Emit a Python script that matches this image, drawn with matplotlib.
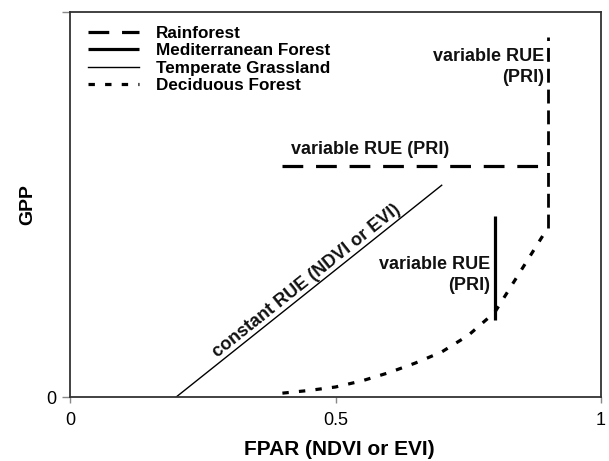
import numpy as np
import matplotlib
matplotlib.use("Agg")
import matplotlib.pyplot as plt

plt.rcParams['font.family'] = ['Liberation Sans', 'DejaVu Sans']

# Data
rain_h_x = [0.4, 0.9]
rain_h_y = [0.6, 0.6]
rain_v_x = [0.9, 0.9]
rain_v_y = [0.44, 0.935]
med_x = [0.8, 0.8]
med_y = [0.2, 0.47]
grass_x = [0.2, 0.7]
grass_y = [0.0, 0.55]
decid_x = [0.40, 0.45, 0.50, 0.55, 0.60, 0.65, 0.70, 0.75, 0.80, 0.85, 0.90]
decid_y = [0.010, 0.017, 0.026, 0.042, 0.063, 0.088, 0.117, 0.160, 0.220, 0.330, 0.440]
x_ticks = [0, 0.5, 1]
x_tick_labels = ["0", "0.5", "1"]
y_ticks = [0, 1]
y_tick_labels = ["0", ""]

fig = plt.figure(figsize=(6.09, 4.61), dpi=100)
ax = fig.add_axes([70/609, 1 - 397/461, 531/609, 385/461])

ax.plot(rain_h_x, rain_h_y, color='black', lw=2.3, dashes=(6.5, 4), label='Rainforest')
ax.plot(rain_v_x, rain_v_y, color='black', lw=2.0, dashes=(5, 2.5))
ax.plot(med_x, med_y, color='black', lw=2.3, solid_capstyle='butt', label='Mediterranean Forest')
ax.plot(grass_x, grass_y, color='black', lw=1.0, label='Temperate Grassland')
ax.plot(decid_x, decid_y, color='black', lw=2.3, dashes=(2, 3.2), label='Deciduous Forest')

ax.set_xlim(0, 1)
ax.set_ylim(0, 1)
ax.set_xticks(x_ticks)
ax.set_xticklabels(x_tick_labels)
ax.set_yticks(y_ticks)
ax.set_yticklabels(y_tick_labels)
ax.tick_params(direction='out', width=1, colors='#888888', labelcolor='black', labelsize=13)
ax.tick_params(axis='x', length=4.5, pad=6)
ax.tick_params(axis='y', length=6, pad=4)
for s in ax.spines.values():
    s.set_linewidth(1.3)
    s.set_color('#333333')

ax.set_xlabel('FPAR (NDVI or EVI)', fontsize=15, fontweight='bold', labelpad=8)
ax.xaxis.label.set_x(0.507)
ax.set_ylabel('GPP', fontsize=14, fontweight='bold', labelpad=7)

leg = ax.legend(loc='upper left', bbox_to_anchor=(0.021, 0.982), frameon=False,
                prop={'weight': 'bold', 'size': 12.3}, handlelength=3.0,
                handletextpad=1.0, labelspacing=0.15, borderaxespad=0.0)

ann = dict(fontsize=13, fontweight='bold', color='#111111')
ax.text(0.565, 0.644, 'variable RUE (PRI)', ha='center', va='center', **ann)
ax.text(0.893, 0.858, 'variable RUE\n(PRI)', ha='right', va='center', multialignment='right',
        linespacing=1.3, **ann)
ax.text(0.792, 0.316, 'variable RUE\n(PRI)', ha='right', va='center', multialignment='right',
        linespacing=1.3, **ann)
ang = np.degrees(np.arctan2(grass_y[1] - grass_y[0], grass_x[1] - grass_x[0]))
ax.text(0.456, 0.284, 'constant RUE (NDVI or EVI)', ha='center', va='bottom',
        rotation=ang, rotation_mode='anchor', transform_rotates_text=True, **ann)

fig.savefig('out.png', dpi=100)
